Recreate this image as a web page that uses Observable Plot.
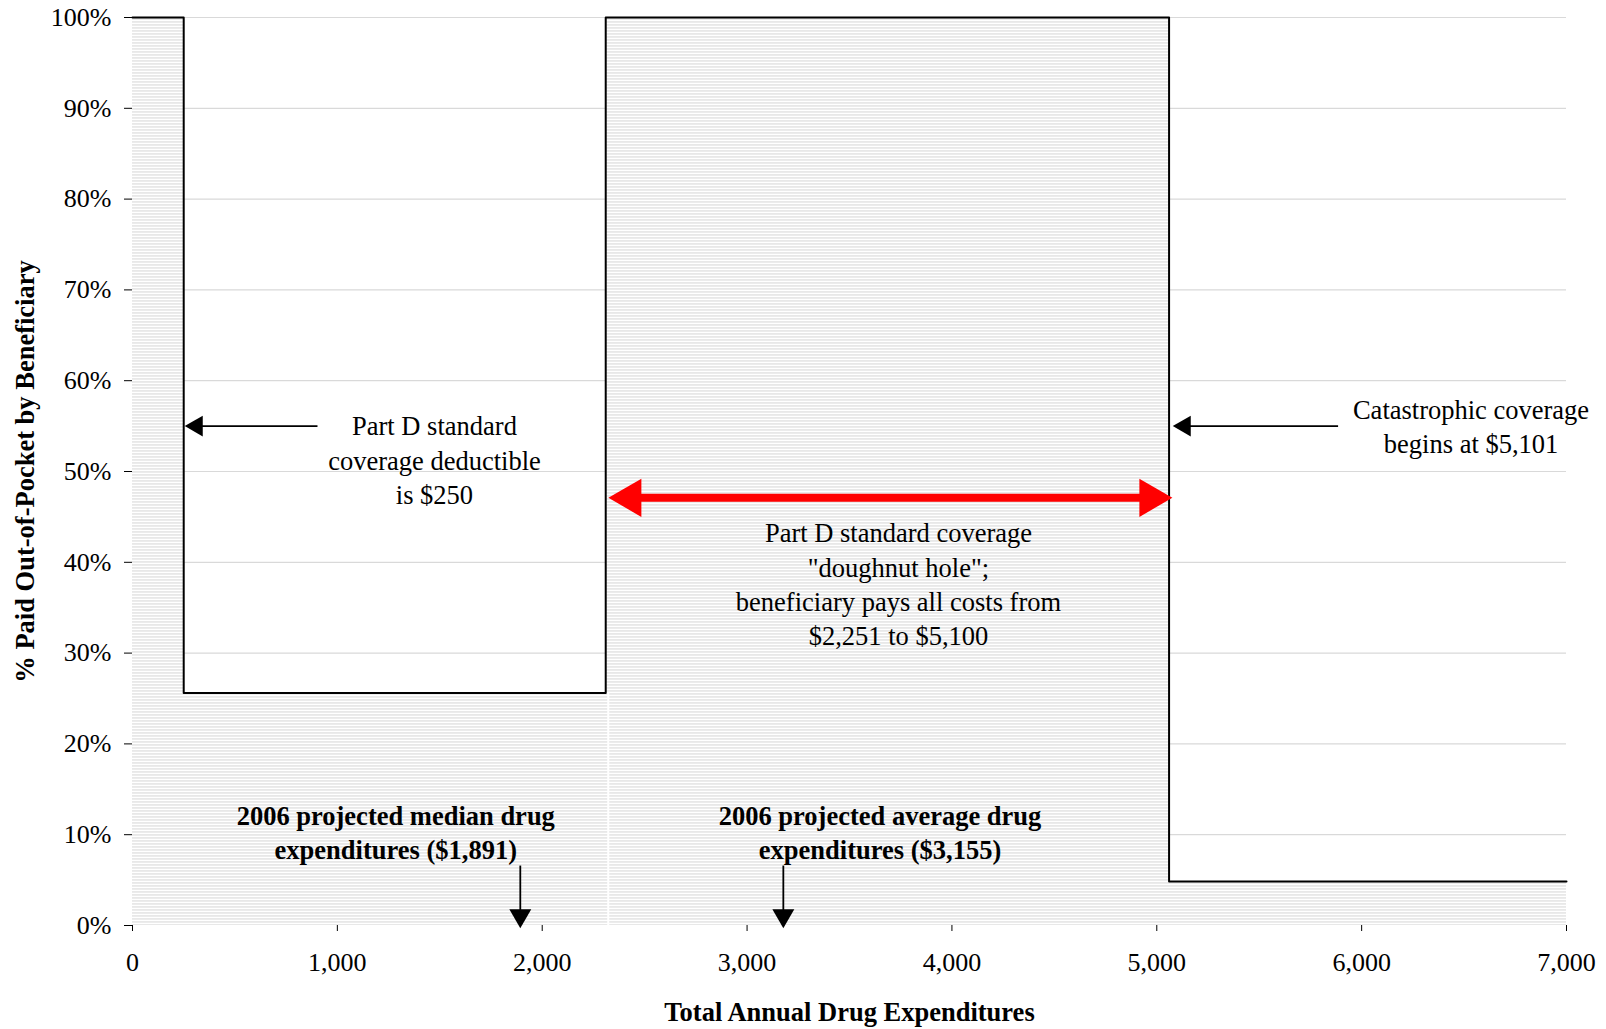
<!DOCTYPE html>
<html>
<head>
<meta charset="utf-8">
<script src="https://cdn.jsdelivr.net/npm/d3@7"></script>
<script src="https://cdn.jsdelivr.net/npm/@observablehq/plot@0.6"></script>
<style>
  html, body { margin: 0; padding: 0; background: #fff; }
  #chart { width: 1606px; height: 1029px; }
</style>
</head>
<body>
<div id="chart"></div>
<script>
// ---- data ----
const stepX = [0, 250, 2310, 5060, 7000];
const stepY = [100, 25.6, 100, 4.85, 4.85];
const xTicks = [0, 1000, 2000, 3000, 4000, 5000, 6000, 7000];
const yTicks = [0, 10, 20, 30, 40, 50, 60, 70, 80, 90, 100];
const gridY = [10, 20, 30, 40, 50, 60, 70, 80, 90, 100];

const noteX = [1474, 6534, 3739];
const noteY = [51.4, 55.1, 37.75];
const noteText = [
  "Part D standard\ncoverage deductible\nis $250",
  "Catastrophic coverage\nbegins at $5,101",
  "Part D standard coverage\n\"doughnut hole\";\nbeneficiary pays all costs from\n$2,251 to $5,100"
];

const boldX = [1285, 3649];
const boldY = [10.4, 10.4];
const boldText = [
  "2006 projected median drug\nexpenditures ($1,891)",
  "2006 projected average drug\nexpenditures ($3,155)"
];

// horizontal black arrows (tail -> tip, pointing left)
const leftTailX = [903, 5885];
const leftTipX = [255, 5078];
const leftY = [55, 55];

// vertical arrows (pointing down)
const downX = [1893, 3177];
const downTailY = [6.6, 6.6];
const downTipY = [-0.3, -0.3];

// red double arrow ("doughnut hole")
const redX1 = 2323, redX2 = 5076, redY = 47.1;

const xTitle = "Total Annual Drug Expenditures";
const yTitle = "% Paid Out-of-Pocket by Beneficiary";

// ---- tables built from the arrays ----
const steps = stepX.map((x, i) => ({x, y: stepY[i]}));
const notes = noteX.map((x, i) => ({x, y: noteY[i], text: noteText[i]}));
const bolds = boldX.map((x, i) => ({x, y: boldY[i], text: boldText[i]}));
const leftArrows = leftTailX.map((x, i) => ({x1: x, x2: leftTipX[i], y: leftY[i]}));
const downArrows = downX.map((x, i) => ({x, y1: downTailY[i], y2: downTipY[i]}));
const redArrow = [{x1: redX1, x2: redX2, y: redY}];

// triangle size helper: head length L (px) -> symbol radius, tip offset
const tri = L => { const h = L / 3; return {r: Math.sqrt(3 * Math.sqrt(3) * h * h / Math.PI), off: 2 * h}; };
const blk = tri(18), red = tri(33), dwn = tri(19);

const font = "'Liberation Serif', 'Times New Roman', serif";
const fs = 26.5;

const svg = Plot.plot({
  width: 1606,
  height: 1029,
  marginLeft: 132,
  marginRight: 40,
  marginTop: 17,
  marginBottom: 104,
  style: {fontFamily: font, fontSize: "26px", background: "#fff", color: "#000"},
  x: {domain: [0, 7000], ticks: xTicks, tickFormat: d3.format(","), tickSize: 6, tickPadding: 21, label: null},
  y: {domain: [0, 100], ticks: yTicks, tickFormat: d => d + "%", tickSize: 8, tickPadding: 13, label: null},
  marks: [
    Plot.ruleY(gridY, {stroke: "#d9d9d9", strokeWidth: 1.2}),
    Plot.areaY(steps, {x: "x", y: "y", curve: "step-after", fill: "url(#hatch)"}),
    Plot.ruleX([stepX[2]], {y1: 0, y2: stepY[1], stroke: "#fff", strokeWidth: 2, dx: 2.5}),
    Plot.line(steps, {x: "x", y: "y", curve: "step-after", stroke: "#000", strokeWidth: 2}),
    // black left arrows
    Plot.arrow(leftArrows, {x1: "x1", x2: "x2", y1: "y", y2: "y", stroke: "#000", strokeWidth: 1.8, headLength: 0, insetEnd: 10, strokeLinecap: "butt"}),
    Plot.dot(leftArrows, {x: "x2", y: "y", symbol: "triangle", r: blk.r, rotate: -90, fill: "#000", stroke: "none", dx: blk.off}),
    // down arrows
    Plot.arrow(downArrows, {x1: "x", x2: "x", y1: "y1", y2: "y2", stroke: "#000", strokeWidth: 1.8, headLength: 0, insetEnd: 10, strokeLinecap: "butt"}),
    Plot.dot(downArrows, {x: "x", y: "y2", symbol: "triangle", r: dwn.r, rotate: 180, fill: "#000", stroke: "none", dy: -dwn.off}),
    // red double arrow
    Plot.arrow(redArrow, {x1: "x1", x2: "x2", y1: "y", y2: "y", stroke: "#ff0000", strokeWidth: 8, headLength: 0, insetStart: 28, insetEnd: 28, strokeLinecap: "butt"}),
    Plot.dot(redArrow, {x: "x1", y: "y", symbol: "triangle", r: red.r, rotate: -90, fill: "#ff0000", stroke: "none", dx: red.off}),
    Plot.dot(redArrow, {x: "x2", y: "y", symbol: "triangle", r: red.r, rotate: 90, fill: "#ff0000", stroke: "none", dx: -red.off}),
    // annotations
    Plot.text(notes, {x: "x", y: "y", text: "text", fontSize: fs, lineHeight: 1.3, fill: "#000", fontFamily: font}),
    Plot.text(bolds, {x: "x", y: "y", text: "text", fontSize: fs, lineHeight: 1.3, fill: "#000", fontWeight: "bold", fontFamily: font}),
    // axis titles
    Plot.text([yTitle], {text: d => d, frameAnchor: "left", dx: -107, rotate: -90, textAnchor: "middle", lineAnchor: "middle", fontSize: fs, fontWeight: "bold", fill: "#000", fontFamily: font}),
    Plot.text([xTitle], {text: d => d, frameAnchor: "bottom", dy: 87, textAnchor: "middle", lineAnchor: "middle", fontSize: fs, fontWeight: "bold", fill: "#000", fontFamily: font})
  ]
});

// hatch pattern definition used by the area fill
const defs = d3.select(svg).insert("defs", ":first-child");
const pat = defs.append("pattern").attr("id", "hatch").attr("patternUnits", "userSpaceOnUse")
  .attr("width", 6).attr("height", 3);
pat.append("rect").attr("width", 6).attr("height", 3).attr("fill", "#ffffff");
pat.append("rect").attr("width", 6).attr("height", 1.8).attr("fill", "#e8e8e8");

document.getElementById("chart").appendChild(svg);
</script>
</body>
</html>
